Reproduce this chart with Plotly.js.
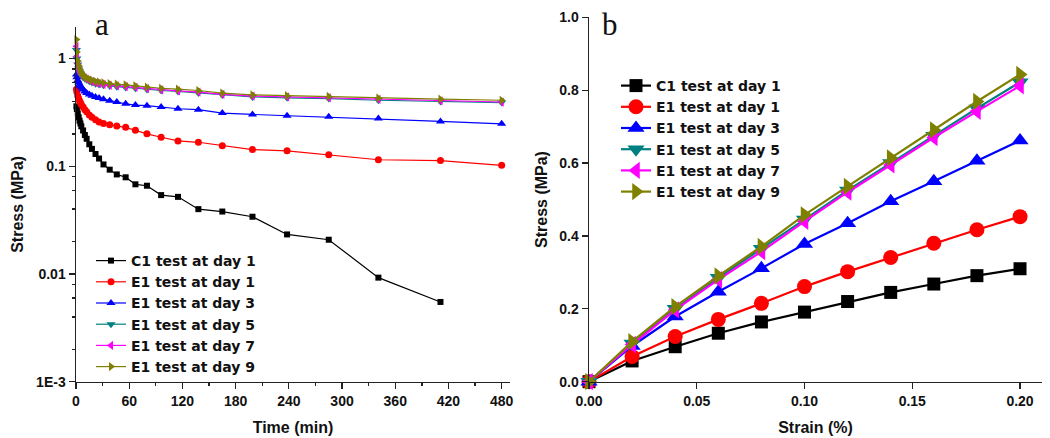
<!DOCTYPE html>
<html>
<head>
<meta charset="utf-8">
<script src="https://cdn.plot.ly/plotly-3.0.1.min.js"></script>
<style>html,body{margin:0;padding:0;background:#fff;}#chart{width:1050px;height:438px;}</style>
</head>
<body>
<div id="chart"></div>
<script>
// ---------- Panel a: stress relaxation (log scale) ----------
const timeMin = [0.5, 1, 2, 3, 4, 5, 6, 8, 10, 12, 15, 18, 22, 26, 31, 38, 46, 56, 67, 80, 96, 115, 138, 165, 199, 238, 285, 341, 411, 480];
const timeC1 = [0.5, 1, 2, 3, 4, 5, 6, 8, 10, 12, 15, 18, 22, 26, 31, 38, 46, 56, 67, 80, 96, 115, 138, 165, 199, 238, 285, 341, 411];
const relaxC1d1 = [0.36, 0.34, 0.31, 0.285, 0.265, 0.25, 0.235, 0.215, 0.195, 0.18, 0.16, 0.145, 0.13, 0.118, 0.104, 0.093, 0.084, 0.079, 0.068, 0.066, 0.054, 0.052, 0.040, 0.038, 0.034, 0.0233, 0.0208, 0.00925, 0.0055];
const relaxE1d1 = [0.52, 0.49, 0.45, 0.425, 0.405, 0.39, 0.375, 0.355, 0.335, 0.32, 0.30, 0.285, 0.27, 0.258, 0.25, 0.243, 0.236, 0.23, 0.216, 0.20, 0.186, 0.172, 0.167, 0.155, 0.143, 0.139, 0.128, 0.115, 0.113, 0.102];
const relaxE1d3 = [0.71, 0.67, 0.63, 0.60, 0.575, 0.555, 0.54, 0.515, 0.495, 0.48, 0.465, 0.452, 0.44, 0.43, 0.42, 0.405, 0.395, 0.38, 0.37, 0.365, 0.355, 0.342, 0.335, 0.312, 0.303, 0.295, 0.288, 0.277, 0.261, 0.248];
const relaxE1d5 = [1.2, 1.0, 0.88, 0.81, 0.76, 0.725, 0.70, 0.67, 0.65, 0.635, 0.615, 0.60, 0.585, 0.575, 0.565, 0.555, 0.548, 0.54, 0.53, 0.515, 0.505, 0.495, 0.48, 0.458, 0.44, 0.432, 0.425, 0.41, 0.40, 0.39];
const relaxE1d7 = [1.3, 1.05, 0.90, 0.83, 0.775, 0.74, 0.715, 0.68, 0.66, 0.645, 0.625, 0.61, 0.595, 0.585, 0.575, 0.565, 0.558, 0.55, 0.54, 0.525, 0.512, 0.502, 0.488, 0.465, 0.448, 0.44, 0.432, 0.418, 0.405, 0.395];
const relaxE1d9 = [1.5, 1.15, 0.95, 0.86, 0.80, 0.76, 0.735, 0.70, 0.68, 0.665, 0.645, 0.63, 0.615, 0.605, 0.595, 0.585, 0.578, 0.57, 0.558, 0.543, 0.53, 0.52, 0.505, 0.478, 0.46, 0.452, 0.445, 0.43, 0.42, 0.41];

// ---------- Panel b: stress-strain ----------
const strain = [0, 0.02, 0.04, 0.06, 0.08, 0.10, 0.12, 0.14, 0.16, 0.18, 0.20];
const ssC1d1 = [0, 0.057, 0.096, 0.133, 0.164, 0.191, 0.22, 0.245, 0.268, 0.291, 0.31];
const ssE1d1 = [0, 0.069, 0.124, 0.171, 0.215, 0.261, 0.302, 0.341, 0.38, 0.417, 0.453];
const ssE1d3 = [0, 0.098, 0.179, 0.247, 0.311, 0.378, 0.435, 0.495, 0.55, 0.606, 0.662];
const ssE1d5 = [0, 0.105, 0.20, 0.285, 0.365, 0.445, 0.525, 0.60, 0.675, 0.75, 0.822];
const ssE1d7 = [0, 0.102, 0.197, 0.28, 0.357, 0.44, 0.52, 0.595, 0.67, 0.742, 0.812];
const ssE1d9 = [0, 0.11, 0.206, 0.29, 0.371, 0.458, 0.536, 0.614, 0.691, 0.769, 0.843];

const seriesNames = ["C1 test at day 1", "E1 test at day 1", "E1 test at day 3", "E1 test at day 5", "E1 test at day 7", "E1 test at day 9"];
const colors = ["#000000", "#ff0000", "#0000ff", "#008080", "#ff00ff", "#808000"];
const symbols = ["square", "circle", "triangle-up", "triangle-down", "triangle-left", "triangle-right"];

const W = 1050, H = 438;
const px = v => v / W;
const py = v => 1 - v / H;

const FONT = "Liberation Sans, Arial, sans-serif";
const LEGFONT = "DejaVu Sans, Verdana, sans-serif";

const relaxX = [timeC1, timeMin, timeMin, timeMin, timeMin, timeMin];
const relaxY = [relaxC1d1, relaxE1d1, relaxE1d3, relaxE1d5, relaxE1d7, relaxE1d9];
const ssY = [ssC1d1, ssE1d1, ssE1d3, ssE1d5, ssE1d7, ssE1d9];
const smallSizes = [6, 7, 8, 8, 8, 8];
const bigSizes = [13, 15, 15, 15, 15, 15];

const traces = [];
for (let i = 0; i < 6; i++) {
  traces.push({
    x: relaxX[i], y: relaxY[i], xaxis: 'x', yaxis: 'y', legend: 'legend',
    type: 'scatter', mode: 'lines+markers', name: seriesNames[i],
    line: {color: colors[i], width: 1.2},
    marker: {symbol: symbols[i], size: smallSizes[i], color: colors[i]},
    cliponaxis: false
  });
}
for (let i = 0; i < 6; i++) {
  traces.push({
    x: strain, y: ssY[i], xaxis: 'x2', yaxis: 'y2', legend: 'legend2',
    type: 'scatter', mode: 'lines+markers', name: seriesNames[i],
    line: {color: colors[i], width: 2.2},
    marker: {symbol: symbols[i], size: bigSizes[i], color: colors[i]},
    cliponaxis: false
  });
}

const tickFont = {family: FONT, size: 14, color: '#111', weight: 'bold'};
const titleFont = {family: FONT, size: 16, color: '#111', weight: 'bold'};
const minorLog = [];
[0.001, 0.01, 0.1, 1].forEach(d => [2, 4, 6, 8].forEach(m => minorLog.push(d * m)));

const layout = {
  width: W, height: H,
  margin: {l: 0, r: 0, t: 0, b: 0},
  paper_bgcolor: '#fff', plot_bgcolor: '#fff',
  showlegend: true,
  font: {family: FONT},
  xaxis: {
    domain: [px(76), px(510)], anchor: 'y',
    range: [0, 489.4], tickvals: [0, 60, 120, 180, 240, 300, 360, 420, 480],
    ticks: 'outside', ticklen: 6, tickwidth: 1.3, tickcolor: '#222',
    minor: {tickvals: [30, 90, 150, 210, 270, 330, 390, 450], ticks: 'outside', ticklen: 3, tickcolor: '#222'},
    showline: true, linecolor: '#222', linewidth: 1.5, showgrid: false, zeroline: false,
    tickfont: tickFont,
    title: {text: 'Time (min)', font: titleFont, standoff: 14}
  },
  yaxis: {
    domain: [1 - 381.7 / H, 1 - 27 / H], anchor: 'x',
    type: 'log', range: [-3, 0.293],
    tickvals: [0.001, 0.01, 0.1, 1], ticktext: ['1E-3', '0.01', '0.1', '1'],
    ticks: 'outside', ticklen: 6, tickwidth: 1.3, tickcolor: '#222',
    minor: {tickvals: minorLog, ticks: 'outside', ticklen: 3, tickcolor: '#222'},
    showline: true, linecolor: '#222', linewidth: 1.5, showgrid: false, zeroline: false,
    tickfont: tickFont,
    title: {text: 'Stress (MPa)', font: titleFont, standoff: 8}
  },
  xaxis2: {
    domain: [px(589), px(1042)], anchor: 'y2',
    range: [0, 0.2102], tickvals: [0, 0.05, 0.10, 0.15, 0.20], tickformat: '.2f',
    ticks: 'outside', ticklen: 6, tickwidth: 1.3, tickcolor: '#222',
    showline: true, linecolor: '#222', linewidth: 1.5, showgrid: false, zeroline: false,
    tickfont: tickFont,
    title: {text: 'Strain (%)', font: titleFont, standoff: 14}
  },
  yaxis2: {
    domain: [1 - 381.7 / H, 1 - 17.3 / H], anchor: 'x2',
    range: [0, 1.0], tickvals: [0, 0.2, 0.4, 0.6, 0.8, 1.0], tickformat: '.1f',
    ticks: 'outside', ticklen: 6, tickwidth: 1.3, tickcolor: '#222',
    showline: true, linecolor: '#222', linewidth: 1.5, showgrid: false, zeroline: false,
    tickfont: tickFont,
    title: {text: 'Stress (MPa)', font: titleFont, standoff: 7}
  },
  legend: {
    x: px(91), y: py(245), xanchor: 'left', yanchor: 'top',
    bgcolor: 'rgba(0,0,0,0)', borderwidth: 0, tracegroupgap: 0,
    font: {family: LEGFONT, size: 14, color: '#111', weight: 'bold'}
  },
  legend2: {
    x: px(616), y: py(70), xanchor: 'left', yanchor: 'top',
    bgcolor: 'rgba(0,0,0,0)', borderwidth: 0, tracegroupgap: 0,
    font: {family: LEGFONT, size: 14, color: '#111', weight: 'bold'}
  },
  annotations: [
    {text: 'a', xref: 'paper', yref: 'paper', x: px(93), y: py(25), xanchor: 'left', yanchor: 'middle',
     showarrow: false, font: {family: 'Liberation Serif, Times New Roman, serif', size: 31, color: '#111'}},
    {text: 'b', xref: 'paper', yref: 'paper', x: px(600), y: py(24), xanchor: 'left', yanchor: 'middle',
     showarrow: false, font: {family: 'Liberation Serif, Times New Roman, serif', size: 31, color: '#111'}}
  ]
};

Plotly.newPlot('chart', traces, layout, {displayModeBar: false, staticPlot: true});
</script>
</body>
</html>
